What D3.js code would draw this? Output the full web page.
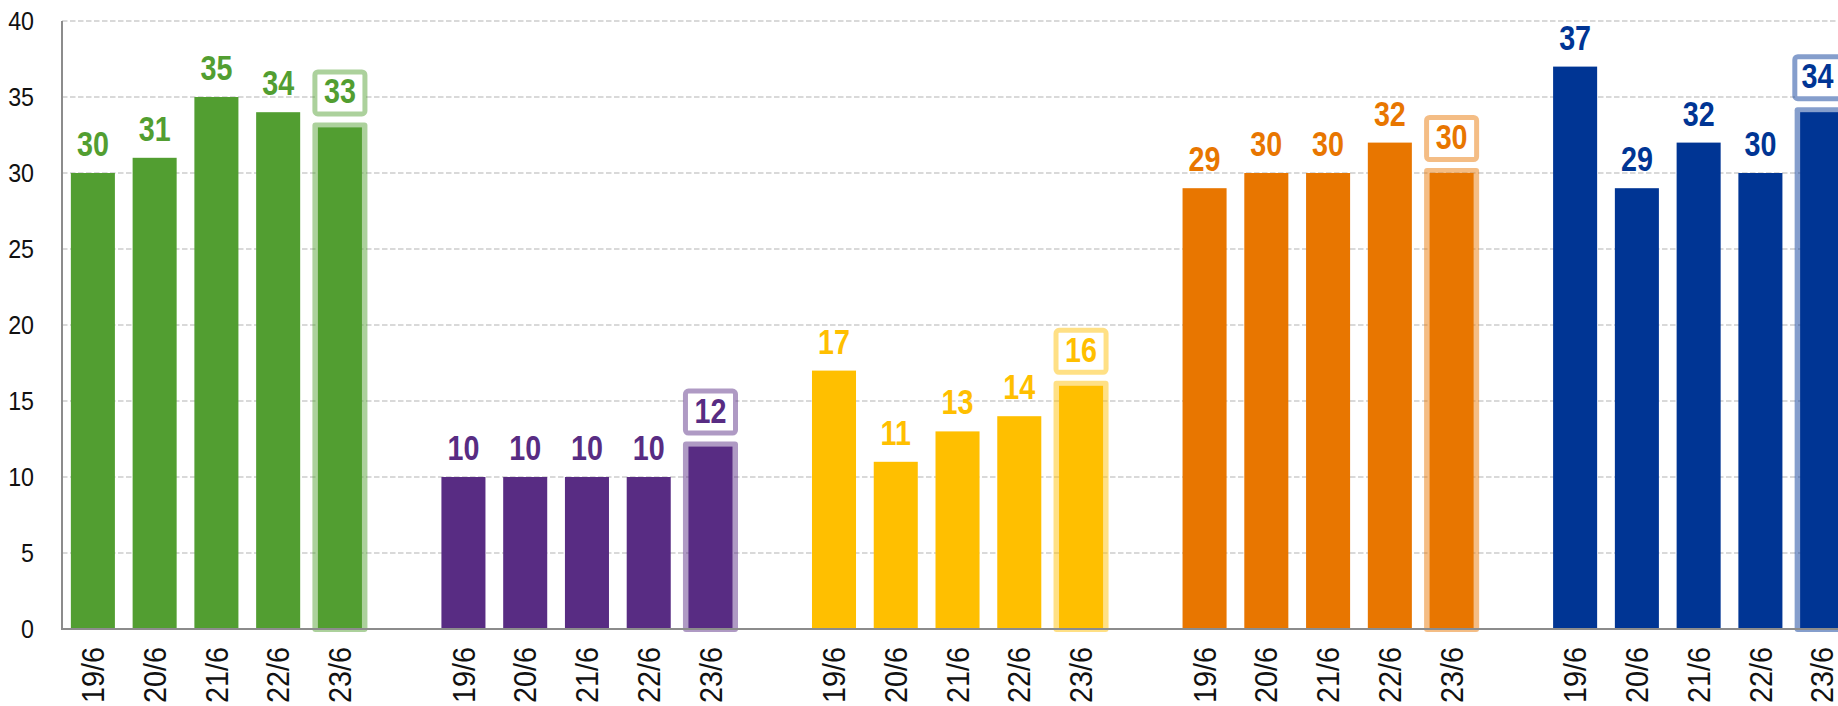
<!DOCTYPE html>
<html>
<head>
<meta charset="utf-8">
<script src="https://cdn.jsdelivr.net/npm/d3@7"></script>
<style>
  html, body { margin: 0; padding: 0; background: #fff; }
  svg { display: block; }
</style>
</head>
<body>
<svg id="chart" width="1838" height="706"></svg>
<script>
// ---- data ----
const dates = ["19/6", "20/6", "21/6", "22/6", "23/6"];
const groupIds = ["g1", "g2", "g3", "g4", "g5"];
const greenValues  = [30, 31, 35, 34, 33];
const purpleValues = [10, 10, 10, 10, 12];
const yellowValues = [17, 11, 13, 14, 16];
const orangeValues = [29, 30, 30, 32, 30];
const blueValues   = [37, 29, 32, 30, 34];
const yTicks = [0, 5, 10, 15, 20, 25, 30, 35, 40];
const highlightDate = "23/6";

// ---- styles ----
const palette = ["#529e31", "#582c83", "#ffbf00", "#e87600", "#003594"];
const seriesValues = [greenValues, purpleValues, yellowValues, orangeValues, blueValues];

const W = 1838, H = 706;
const svg = d3.select("#chart");

// slots: 5 dates + one empty slot per group
const slots = [];
groupIds.forEach(g => { dates.forEach(d => slots.push(g + "|" + d)); slots.push(g + "|gap"); });

const x = d3.scaleBand().domain(slots).range([62, 62 + 30 * 61.76]).paddingInner(0.287).paddingOuter(0.1435);
const y = d3.scaleLinear().domain([0, 40]).range([629, 21]);

const records = [];
groupIds.forEach((g, gi) => {
  dates.forEach((d, di) => {
    records.push({ key: g + "|" + d, date: d, value: seriesValues[gi][di], color: palette[gi], hl: d === highlightDate });
  });
});
const cx = d => x(d.key) + x.bandwidth() / 2;
const shift = d => Math.min(0, (W - 20.5) - cx(d));

// gridlines
svg.append("g").selectAll("line").data(yTicks.filter(t => t > 0)).join("line")
  .attr("x1", 62).attr("x2", W)
  .attr("y1", d => y(d)).attr("y2", d => y(d))
  .attr("stroke", "#d9d9d9").attr("stroke-width", 2).attr("stroke-dasharray", "5.5,2.5");

// y tick labels
svg.append("g").selectAll("text").data(yTicks).join("text")
  .attr("transform", d => `translate(34,${y(d)}) scale(0.93,1)`)
  .attr("dy", "0.36em")
  .attr("text-anchor", "end")
  .attr("font-family", "'Liberation Sans', Arial, sans-serif")
  .attr("font-size", 25).attr("fill", "#111")
  .text(d => d);

// highlight outlines
const hl = records.filter(r => r.hl);
svg.append("g").selectAll("rect").data(hl).join("rect")
  .attr("x", d => x(d.key) - 5.5)
  .attr("y", d => y(d.value) - 5)
  .attr("width", x.bandwidth() + 11)
  .attr("height", d => y(0) - y(d.value) + 8)
  .attr("rx", 3)
  .attr("fill", d => d.color).attr("fill-opacity", 0.48);

// bars
svg.append("g").selectAll("rect").data(records).join("rect")
  .attr("x", d => x(d.key))
  .attr("y", d => y(d.value))
  .attr("width", x.bandwidth())
  .attr("height", d => y(0) - y(d.value))
  .attr("fill", d => d.color);

// axes lines
svg.append("line").attr("x1", 62).attr("x2", 62).attr("y1", y(40)).attr("y2", y(0) + 1)
  .attr("stroke", "#8c8c8c").attr("stroke-width", 2);
svg.append("line").attr("x1", 61).attr("x2", W).attr("y1", y(0)).attr("y2", y(0))
  .attr("stroke", "#8c8c8c").attr("stroke-width", 2);

// label boxes for highlighted bars
svg.append("g").selectAll("rect").data(hl).join("rect")
  .attr("x", d => x(d.key) - 3 + shift(d) / 2)
  .attr("y", d => y(d.value) - 55.5)
  .attr("width", x.bandwidth() + 6)
  .attr("height", 42)
  .attr("rx", 3)
  .attr("fill", "#fff")
  .attr("stroke", d => d.color).attr("stroke-opacity", 0.48).attr("stroke-width", 5);

// value labels
svg.append("g").selectAll("text").data(records).join("text")
  .attr("transform", d => `translate(${cx(d) + shift(d)},${y(d.value) - (d.hl ? 24 : 17)}) scale(0.82,1)`)
  .attr("text-anchor", "middle")
  .attr("font-family", "'Liberation Sans', Arial, sans-serif")
  .attr("font-weight", "bold")
  .attr("font-size", 35)
  .attr("fill", d => d.color)
  .text(d => d.value);

// x labels (rotated)
svg.append("g").selectAll("text").data(records).join("text")
  .attr("transform", d => `translate(${cx(d)},647) rotate(-90) scale(0.93,1)`)
  .attr("dy", "0.36em")
  .attr("text-anchor", "end")
  .attr("font-family", "'Liberation Sans', Arial, sans-serif")
  .attr("font-size", 31).attr("fill", "#111")
  .text(d => d.date);
</script>
</body>
</html>
